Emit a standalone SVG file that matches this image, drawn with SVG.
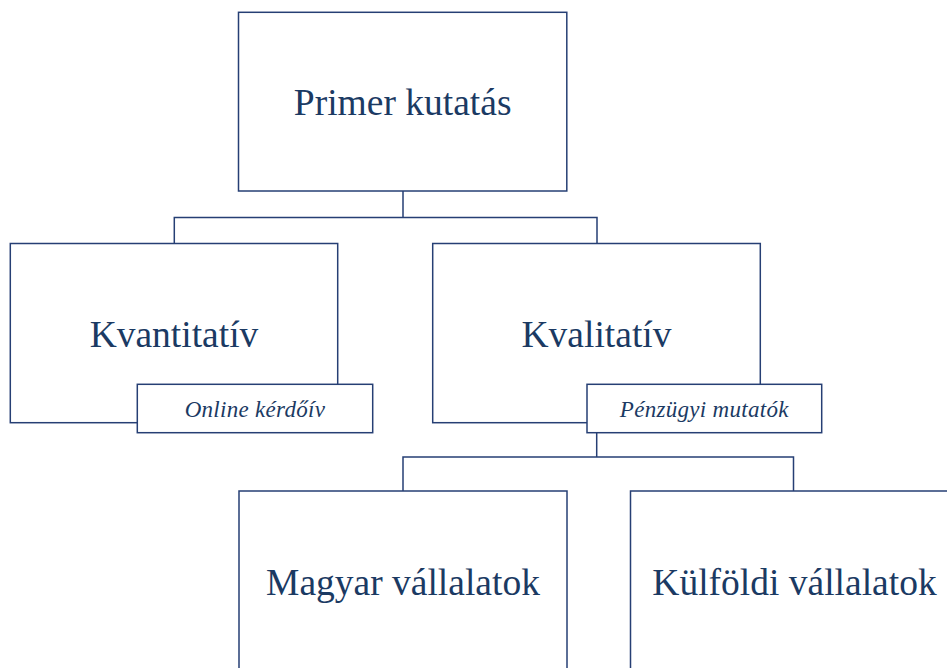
<svg xmlns="http://www.w3.org/2000/svg" width="947" height="668" viewBox="0 0 947 668">
<style>
.box{fill:#ffffff;stroke:#263f74;stroke-width:1.5}
.conn{fill:none;stroke:#263f74;stroke-width:1.5}
.t{font-family:"Liberation Serif","Times New Roman",serif;font-size:37.5px;fill:#1b3a63;text-anchor:middle}
.s{font-family:"Liberation Serif","Times New Roman",serif;font-size:23px;letter-spacing:0.3px;font-style:italic;fill:#1b3a63;text-anchor:middle}
</style>
<rect width="947" height="668" fill="#ffffff"/>
<g id="connectors">
<path class="conn" d="M403,191 V217.5 M174.3,244 V217.5 H597 V244"/>
<path class="conn" d="M596.7,422.7 V457 M403,491 V457 H793.5 V491"/>
</g>
<g id="primer">
<rect class="box" x="238.5" y="12.3" width="328.3" height="178.7"/>
<text class="t" x="402.7" y="115">Primer kutatás</text>
</g>
<g id="kvantitativ">
<rect class="box" x="10.3" y="243.5" width="327.4" height="179.2"/>
<text class="t" x="174" y="346.7">Kvantitatív</text>
</g>
<g id="online">
<rect class="box" x="137.3" y="384.3" width="235.4" height="48.4"/>
<text class="s" x="255" y="417.3">Online kérdőív</text>
</g>
<g id="kvalitativ">
<rect class="box" x="432.7" y="243.5" width="327.6" height="179.2"/>
<text class="t" x="596.5" y="346.7">Kvalitatív</text>
</g>
<g id="penzugyi">
<rect class="box" x="587" y="384.3" width="234.7" height="48.4"/>
<text class="s" x="704.3" y="417.3">Pénzügyi mutatók</text>
</g>
<g id="magyar">
<rect class="box" x="239" y="491" width="328" height="190"/>
<text class="t" x="403" y="595">Magyar vállalatok</text>
</g>
<g id="kulfoldi">
<rect class="box" x="630.5" y="491" width="328" height="190"/>
<text class="t" x="794.5" y="595">Külföldi vállalatok</text>
</g>
</svg>
